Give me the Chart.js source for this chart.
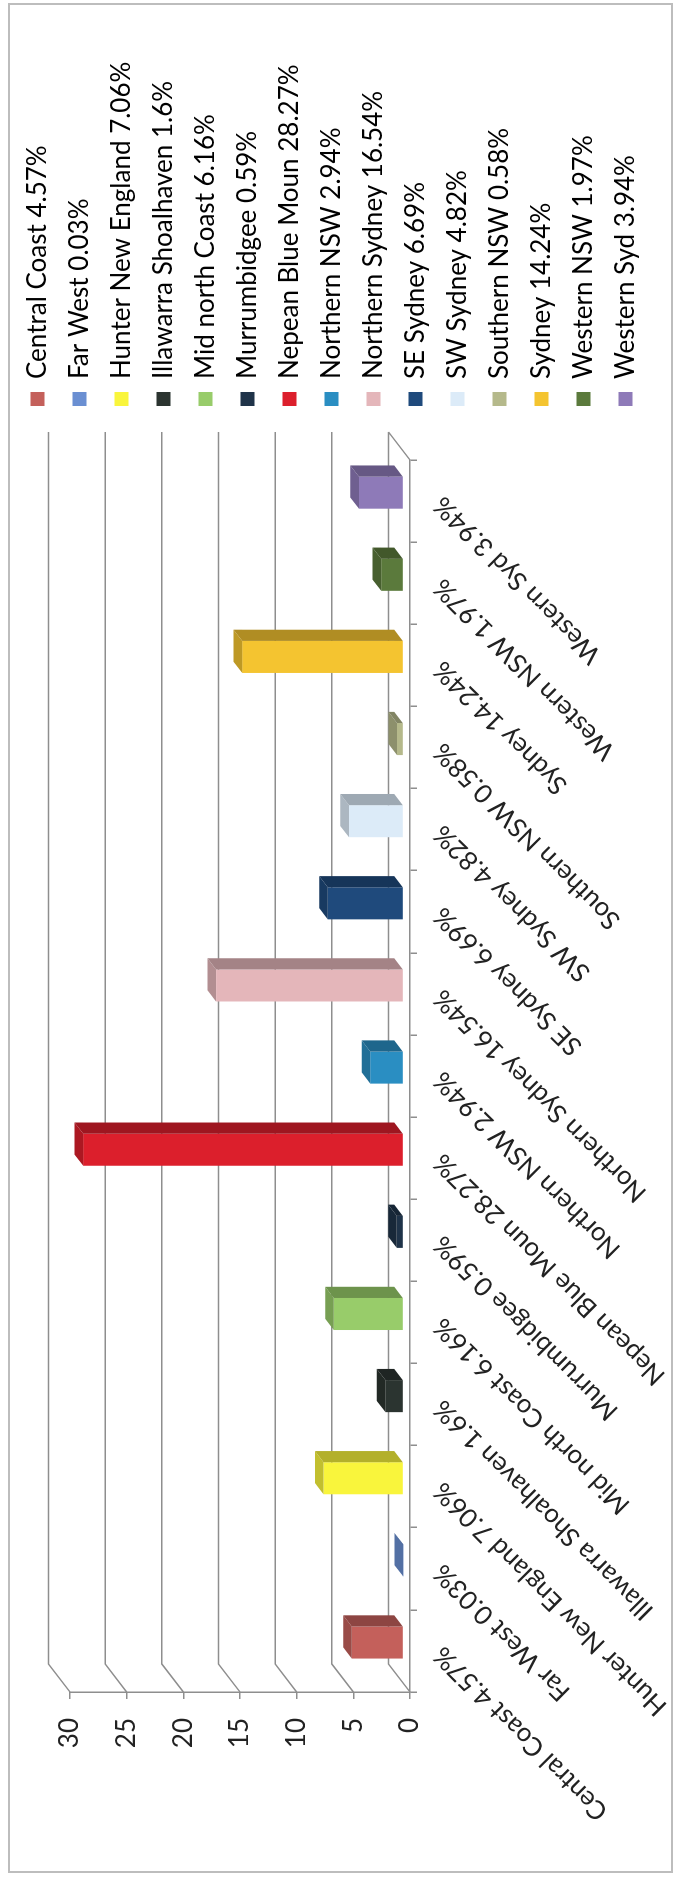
<!DOCTYPE html>
<html>
<head>
<meta charset="utf-8">
<script src="https://cdn.jsdelivr.net/npm/chart.js@4.4.1/dist/chart.umd.min.js"></script>
<style>
  html, body { margin: 0; padding: 0; background: #fff; overflow: hidden; }
  body { width: 675px; height: 1878px; position: relative; }
  #frame { position: absolute; left: 8px; top: 3px; width: 665px; height: 1870px; border: 2px solid #bdbdbd; box-sizing: border-box; }
  /* the chart is landscape, turned a quarter left like the scanned page */
  #wrap { position: absolute; left: 0; top: 0; width: 1878px; height: 675px;
          transform-origin: 0 0; transform: translateY(1878px) rotate(-90deg); }
</style>
</head>
<body>
<div id="frame"></div>
<div id="wrap"><canvas id="regionChart" width="1878" height="675"></canvas></div>
<script>
const regions = ['Central Coast', 'Far West', 'Hunter New England', 'Illawarra Shoalhaven', 'Mid north Coast',
  'Murrumbidgee', 'Nepean Blue Moun', 'Northern NSW', 'Northern Sydney', 'SE Sydney', 'SW Sydney',
  'Southern NSW', 'Sydney', 'Western NSW', 'Western Syd'];
const shares = [4.57, 0.03, 7.06, 1.6, 6.16, 0.59, 28.27, 2.94, 16.54, 6.69, 4.82, 0.58, 14.24, 1.97, 3.94];
const valueTicks = [0, 5, 10, 15, 20, 25, 30];
const barColors = ['#c4605b', '#6a8fd2', '#f9f53c', '#2b3430', '#98cc6a', '#1f3349', '#dc1f2c', '#2a8ec2',
  '#e4b6ba', '#1f4a7c', '#dcebf8', '#b5b98b', '#f4c430', '#5b7a3c', '#8e7ab8'];

const labels = regions.map((r, i) => r + ' ' + shares[i] + '%');

// 3D look: back wall offset and where the boxes sit in the depth
const depth = { u: 28, v: -21.5 };
const boxFront = 0.3, boxDepth = 0.4;

function shade(hex, k) {
  const n = parseInt(hex.slice(1), 16);
  const c = [(n >> 16) & 255, (n >> 8) & 255, n & 255].map(x => Math.round(x * k));
  return 'rgb(' + c.join(',') + ')';
}

// legend width, so the category axis ends where the scan has it
const fontPx = 26;
const m = document.createElement('canvas').getContext('2d');
m.font = fontPx + 'px Lato';
const longest = Math.max(...labels.map(t => m.measureText(t).width));
const legendW = 16 + 14 + fontPx / 2 + longest + 10;
const padRight = Math.max(0, 460 - legendW);

const walls3d = {
  id: 'walls3d',
  afterLayout(chart) {
    const lg = chart.legend;
    const w = lg.width;
    lg.left = chart.chartArea.right + 38;
    lg.right = lg.left + w;
    lg.top -= 6;
    lg.bottom -= 6;
  },
  beforeDatasetsDraw(chart) {
    const ctx = chart.ctx, a = chart.chartArea, y = chart.scales.y;
    ctx.save();
    ctx.strokeStyle = '#8e8e8e';
    ctx.lineWidth = 1.5;
    ctx.beginPath();
    y.ticks.forEach(t => {
      const py = y.getPixelForValue(t.value);
      ctx.moveTo(a.left, py);
      ctx.lineTo(a.left + depth.u, py + depth.v);
      ctx.lineTo(a.right + depth.u, py + depth.v);
    });
    ctx.moveTo(a.right, a.bottom);
    ctx.lineTo(a.right + depth.u, a.bottom + depth.v);
    ctx.stroke();
    ctx.restore();
  },
  beforeDatasetDraw(chart, args) {
    const ctx = chart.ctx;
    const su = depth.u * boxFront, sv = depth.v * boxFront;
    const du = depth.u * boxDepth, dv = depth.v * boxDepth;
    ctx.save();
    args.meta.data.forEach((bar, i) => {
      const p = bar.getProps(['x', 'y', 'base', 'width'], true);
      const x0 = p.x - p.width / 2 + su, x1 = p.x + p.width / 2 + su;
      const top = p.y + sv, bot = p.base + sv;
      const col = barColors[i];
      ctx.fillStyle = col;
      ctx.fillRect(x0, top, x1 - x0, bot - top);
      ctx.fillStyle = shade(col, 0.78);
      ctx.beginPath();
      ctx.moveTo(x0, top); ctx.lineTo(x1, top);
      ctx.lineTo(x1 + du, top + dv); ctx.lineTo(x0 + du, top + dv);
      ctx.closePath(); ctx.fill();
      ctx.fillStyle = shade(col, 0.72);
      ctx.beginPath();
      ctx.moveTo(x1, top); ctx.lineTo(x1 + du, top + dv);
      ctx.lineTo(x1 + du, bot + dv); ctx.lineTo(x1, bot);
      ctx.closePath(); ctx.fill();
    });
    ctx.restore();
    return false;
  }
};

Chart.defaults.font.family = 'Lato';
Chart.defaults.color = '#222';

new Chart(document.getElementById('regionChart').getContext('2d'), {
  type: 'bar',
  data: {
    labels: labels,
    datasets: [{
      label: 'Share',
      data: shares,
      backgroundColor: barColors,
      categoryPercentage: 1,
      barPercentage: 0.39
    }]
  },
  options: {
    responsive: false,
    animation: false,
    layout: { padding: { left: 0, right: padRight, top: 0, bottom: 0 } },
    scales: {
      x: {
        grid: { drawOnChartArea: false, drawTicks: true, tickLength: 7, color: '#8e8e8e', lineWidth: 1.5 },
        border: { display: true, color: '#8e8e8e', width: 1.5 },
        ticks: { autoSkip: false, minRotation: 45, maxRotation: 45, padding: 10, font: { size: fontPx } },
        afterFit: s => { s.height = 265; }
      },
      y: {
        min: 0, max: 30,
        afterBuildTicks: s => { s.ticks = valueTicks.map(v => ({ value: v })); },
        grid: { drawOnChartArea: false, drawTicks: true, tickLength: 7, color: '#8e8e8e', lineWidth: 1.5 },
        border: { display: true, color: '#8e8e8e', width: 1.5 },
        ticks: { padding: 19, font: { size: fontPx } },
        afterFit: s => { s.width = 186; }
      }
    },
    plugins: {
      title: { display: true, text: '', fullSize: false, padding: 0, font: { size: 70, lineHeight: 1 } },
      tooltip: { enabled: false },
      legend: {
        position: 'right',
        labels: {
          boxWidth: 14, boxHeight: 14, padding: 16,
          font: { size: fontPx },
          generateLabels: () => labels.map((t, i) => ({
            text: t, fillStyle: barColors[i], strokeStyle: barColors[i], lineWidth: 0,
            hidden: false, index: i, datasetIndex: 0
          }))
        }
      }
    }
  },
  plugins: [walls3d]
});
</script>
</body>
</html>
